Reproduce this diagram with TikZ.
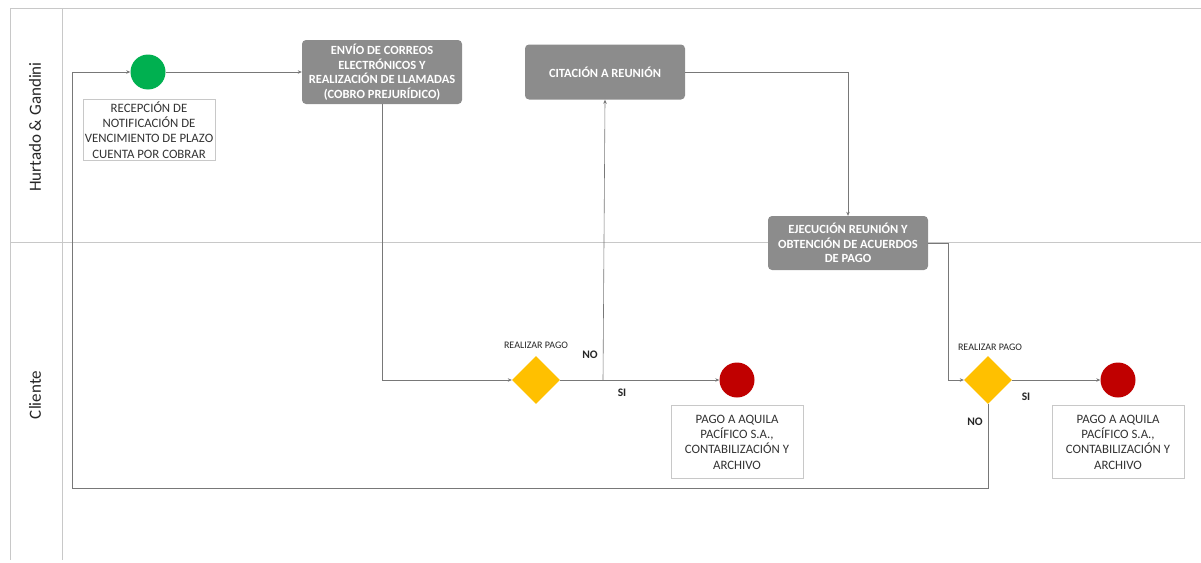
\documentclass[tikz,border=0pt]{standalone}
\usepackage{fontspec}
\setmainfont{Carlito}
\usetikzlibrary{arrows.meta,shapes.geometric}
\definecolor{lanegray}{RGB}{200,200,200}
\definecolor{boxgray}{RGB}{140,140,140}
\definecolor{linegray}{RGB}{120,120,120}
\definecolor{startgreen}{RGB}{0,176,80}
\definecolor{endred}{RGB}{192,0,0}
\definecolor{diamondyellow}{RGB}{255,192,0}
\tikzset{
  x=1pt,y=-1pt,
  lane/.style={draw=lanegray,line width=0.8pt},
  taskbox/.style={rectangle,rounded corners=4pt,fill=boxgray,draw=none,text=white,font=\fontsize{12.5}{14.5}\selectfont\bfseries,align=center,minimum width=160pt,inner sep=1pt},
  labelbox/.style={rectangle,draw=lanegray,fill=white,font=\fontsize{12.8}{15.3}\selectfont,align=center,minimum width=132pt,inner sep=2pt,text=black!80},
  startev/.style={circle,fill=startgreen,minimum size=35pt,inner sep=0pt},
  endev/.style={circle,fill=endred,minimum size=35pt,inner sep=0pt},
  gate/.style={diamond,fill=diamondyellow,minimum size=48pt,inner sep=0pt,aspect=1},
  flow/.style={draw=linegray,line width=0.6pt,-{Stealth[length=4pt,width=3.5pt]}},
  small/.style={font=\fontsize{10}{11}\selectfont,text=black!85},
  yesno/.style={font=\fontsize{11.5}{12}\selectfont\bfseries,text=black!85},
  lanelabel/.style={rotate=90,font=\fontsize{17}{19}\selectfont,text=black!85},
}
\begin{document}
\begin{tikzpicture}
\useasboundingbox (0,0) rectangle (1201,562);
% lanes
\draw[lane] (10,8) -- (1201,8);
\draw[lane] (10,8) -- (10,560);
\draw[lane] (62,8) -- (62,560);
\draw[lane] (10,242) -- (1201,242);
\node[lanelabel] (laneA) at (35,127) {Hurtado \& Gandini};
\node[lanelabel] (laneB) at (35,395) {Cliente};
% nodes
\node[startev] (start) at (148,72) {};
\node[labelbox] (startlbl) at (149,130) {RECEPCIÓN DE\\NOTIFICACIÓN DE\\VENCIMIENTO DE PLAZO\\CUENTA POR COBRAR};
\node[taskbox,minimum height=64pt] (envio) at (382,72) {ENVÍO DE CORREOS\\ELECTRÓNICOS Y\\REALIZACIÓN DE LLAMADAS\\(COBRO PREJURÍDICO)};
\node[taskbox,minimum height=55pt] (cita) at (605,72) {CITACIÓN A REUNIÓN};
\node[taskbox,minimum height=54pt] (ejec) at (848,243) {EJECUCIÓN REUNIÓN Y\\OBTENCIÓN DE ACUERDOS\\DE PAGO};
\node[gate] (g1) at (536,380) {};
\node[gate] (g2) at (988,380) {};
\node[endev] (end1) at (737,380) {};
\node[endev] (end2) at (1118,380) {};
\node[labelbox,minimum height=73pt] (end1lbl) at (737,442) {PAGO A AQUILA\\PACÍFICO S.A.,\\CONTABILIZACIÓN Y\\ARCHIVO};
\node[labelbox,minimum height=73pt] (end2lbl) at (1118,442) {PAGO A AQUILA\\PACÍFICO S.A.,\\CONTABILIZACIÓN Y\\ARCHIVO};
\node[small] (g1lbl) at (536,345) {REALIZAR PAGO};
\node[small] (g2lbl) at (990,347) {REALIZAR PAGO};
\node[yesno] (no1) at (590,355) {NO};
\node[yesno] (si1) at (622,393) {SI};
\node[yesno] (si2) at (1026,397) {SI};
\node[yesno] (no2) at (975,422) {NO};
\coordinate (loopA) at (988,488);
\coordinate (loopB) at (72,488);
\coordinate (loopC) at (72,72);
\coordinate (nobranch) at (603,380);
% connectors
\draw[flow] (g2.south) -- (loopA) -- (loopB) -- (loopC) -- (start.west);
\draw[flow] (start.east) -- (envio.west);
\draw[flow] (envio.south) |- (g1.west);
\draw[flow] (g1.east) -- (end1.west);
\draw[flow] (nobranch) -- (cita.south);
\draw[flow] (cita.east) -| (ejec.north);
\draw[flow] (ejec.east) -| (948,380) -- (g2.west);
\draw[flow] (g2.east) -- (end2.west);
\end{tikzpicture}
\end{document}
